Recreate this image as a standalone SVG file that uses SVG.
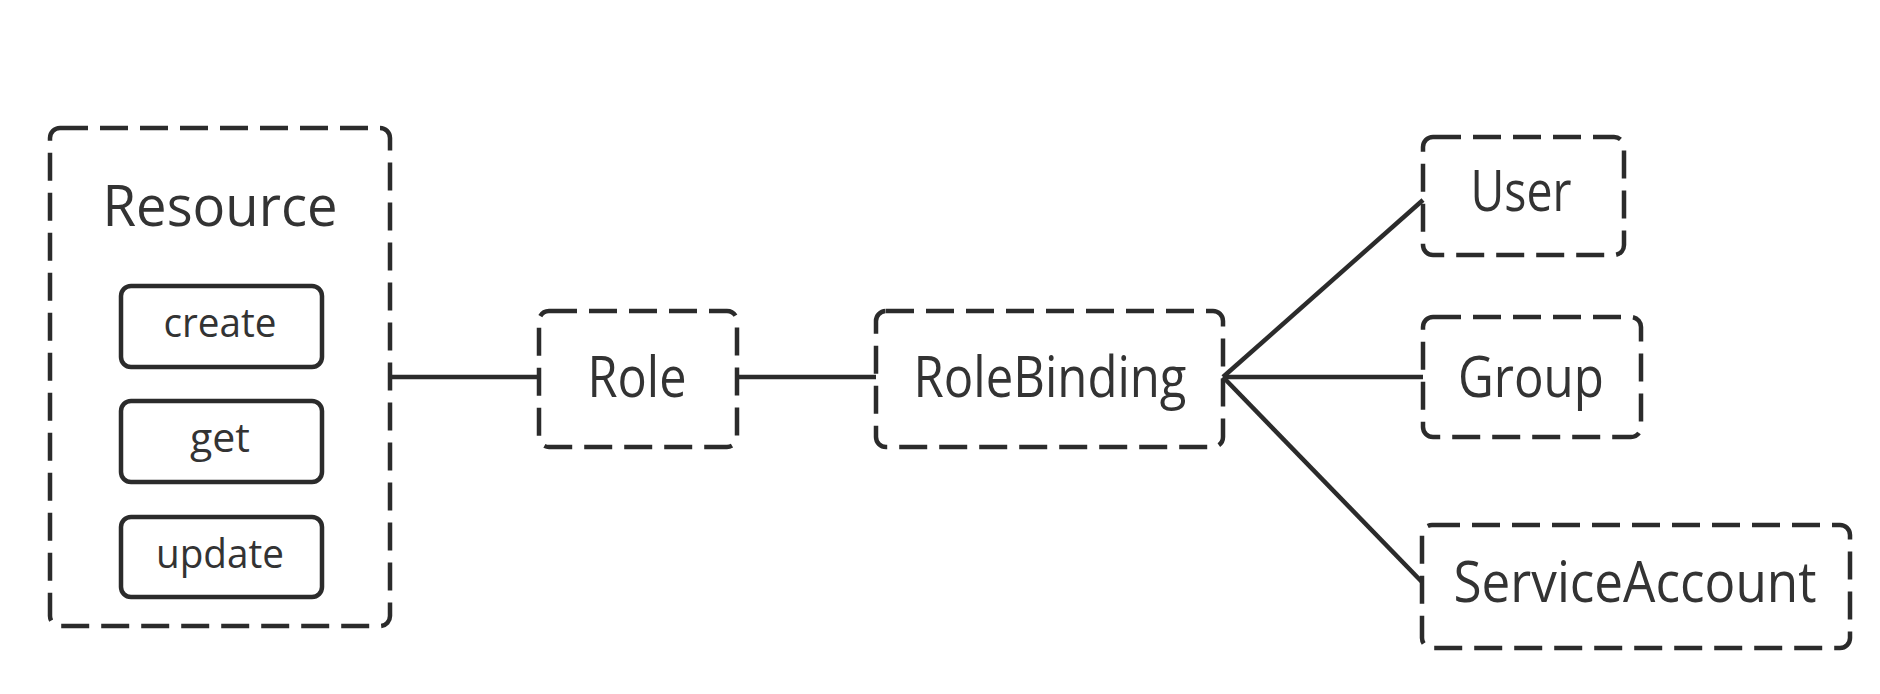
<svg xmlns="http://www.w3.org/2000/svg" width="1880" height="694" viewBox="0 0 1880 694">
<style>
.dash{fill:none;stroke:#2b2b2b;stroke-width:4.5;stroke-dasharray:28 12}
.solid{fill:none;stroke:#2b2b2b;stroke-width:4.5}
.big{font-family:"Open Sans","Noto Sans",sans-serif;font-size:56px;fill:#333;text-anchor:middle}
.small{font-family:"Open Sans","Noto Sans",sans-serif;font-size:40px;fill:#333;text-anchor:middle}
.conn{stroke:#2b2b2b;stroke-width:4.5;fill:none}
</style>
<rect width="1880" height="694" fill="#fff"/>
<g id="resource">
<rect class="dash" x="50" y="128" width="340" height="498" rx="10"/>
<text class="big" x="220" y="226" textLength="235" lengthAdjust="spacingAndGlyphs">Resource</text>
</g>
<g id="create">
<rect class="solid" x="121" y="286" width="201" height="81" rx="10"/>
<text class="small" x="220" y="337" textLength="113" lengthAdjust="spacingAndGlyphs">create</text>
</g>
<g id="get">
<rect class="solid" x="121" y="401" width="201" height="81" rx="10"/>
<text class="small" x="220" y="452" textLength="60" lengthAdjust="spacingAndGlyphs">get</text>
</g>
<g id="update">
<rect class="solid" x="121" y="517" width="201" height="80" rx="10"/>
<text class="small" x="220" y="568" textLength="128" lengthAdjust="spacingAndGlyphs">update</text>
</g>
<g id="role">
<rect class="dash" x="539" y="311" width="198" height="136" rx="10"/>
<text class="big" x="637" y="397" textLength="99" lengthAdjust="spacingAndGlyphs">Role</text>
</g>
<g id="rolebinding">
<rect class="dash" x="876" y="311" width="347" height="136" rx="10"/>
<text class="big" x="1050" y="397" textLength="273" lengthAdjust="spacingAndGlyphs">RoleBinding</text>
</g>
<g id="user">
<rect class="dash" x="1423" y="137" width="201" height="118" rx="10"/>
<text class="big" x="1521" y="211" textLength="101" lengthAdjust="spacingAndGlyphs">User</text>
</g>
<g id="group">
<rect class="dash" x="1423" y="317" width="218" height="120" rx="10"/>
<text class="big" x="1531" y="397" textLength="146" lengthAdjust="spacingAndGlyphs">Group</text>
</g>
<g id="serviceaccount">
<rect class="dash" x="1422" y="525" width="428" height="123" rx="10"/>
<text class="big" x="1635" y="602" textLength="363" lengthAdjust="spacingAndGlyphs">ServiceAccount</text>
</g>
<g id="connectors">
<line class="conn" x1="390" y1="377" x2="539" y2="377"/>
<line class="conn" x1="737" y1="377" x2="876" y2="377"/>
<line class="conn" x1="1223" y1="377" x2="1423" y2="200"/>
<line class="conn" x1="1223" y1="377" x2="1423" y2="377"/>
<line class="conn" x1="1223" y1="377" x2="1422" y2="582"/>
</g>
</svg>
